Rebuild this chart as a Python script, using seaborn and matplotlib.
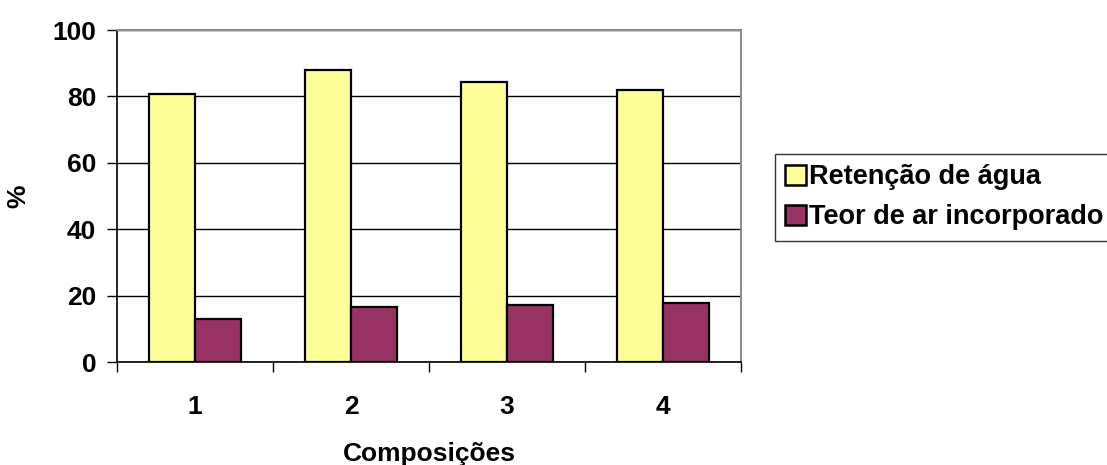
import matplotlib
matplotlib.use("Agg")
import matplotlib.pyplot as plt
import seaborn as sns
import pandas as pd
from matplotlib.ticker import FixedLocator

# Values per composition
composicoes = ["1", "2", "3", "4"]
retencao_agua = [80.8, 88.1, 84.4, 81.9]
teor_ar = [13.1, 16.6, 17.1, 17.7]
series_names = ["Retenção de água", "Teor de ar incorporado"]
series_colors = ["#FFFF99", "#993366"]
y_ticks = [0, 20, 40, 60, 80, 100]

df = pd.DataFrame({
    "Composição": composicoes * 2,
    "Valor": retencao_agua + teor_ar,
    "Série": [series_names[0]] * 4 + [series_names[1]] * 4,
})

sns.set_style("white")
plt.rcParams["font.family"] = ["Liberation Sans", "DejaVu Sans"]
plt.rcParams["font.weight"] = "bold"
plt.rcParams["text.color"] = "black"
plt.rcParams["axes.labelcolor"] = "black"
plt.rcParams["xtick.color"] = "black"
plt.rcParams["ytick.color"] = "black"

FS = 19

fig = plt.figure(figsize=(11.07, 4.65), dpi=100)
ax = fig.add_axes([117 / 1107, 1 - 362 / 465, (741 - 117) / 1107, (362 - 30) / 465])

sns.barplot(data=df, x="Composição", y="Valor", hue="Série", order=composicoes,
            hue_order=series_names, palette=series_colors, width=0.59,
            edgecolor="black", linewidth=1.6, saturation=1, ax=ax, legend=True)

ax.set_ylim(0, 100)
ax.set_xlim(-0.5, 3.5)
ax.set_yticks(y_ticks)
ax.set_yticklabels([str(v) for v in y_ticks], fontsize=FS, fontweight="bold")
ax.yaxis.grid(True, color="black", linewidth=1.0)
ax.set_axisbelow(True)

# category boundaries as major ticks, labels centred via minor ticks
ax.xaxis.set_major_locator(FixedLocator([-0.5, 0.5, 1.5, 2.5, 3.5]))
ax.xaxis.set_minor_locator(FixedLocator([0, 1, 2, 3]))
ax.set_xticklabels([])
ax.set_xticklabels(composicoes, minor=True, fontsize=FS, fontweight="bold")
ax.tick_params(axis="x", which="major", direction="out", length=7, width=1, bottom=True)
ax.tick_params(axis="x", which="minor", length=0, pad=24)
ax.tick_params(axis="y", direction="out", length=7, width=1, left=True, pad=8)

for side in ["left", "bottom"]:
    ax.spines[side].set_color("black")
    ax.spines[side].set_linewidth(1.2)
for side in ["top", "right"]:
    ax.spines[side].set_visible(True)
    ax.spines[side].set_color("#8c8c8c")
    ax.spines[side].set_linewidth(1.5)

ax.set_xlabel("Composições", fontsize=FS, fontweight="bold", va="center")
ax.xaxis.set_label_coords(0.5, (362 - 454) / 332)
ax.set_ylabel("%", fontsize=FS, fontweight="bold", va="center")
ax.yaxis.set_label_coords((18 - 117) / 624, 0.5)

ax.get_legend().remove()
handles, labels = ax.get_legend_handles_labels()
leg = fig.legend(handles[:2], labels[:2], loc="upper left",
                 bbox_to_anchor=(775 / 1107, 1 - 154 / 465),
                 prop={"size": 19.5, "weight": "bold"}, frameon=True, fancybox=False,
                 edgecolor="black", handlelength=0.77, handleheight=0.77,
                 handletextpad=0.12, borderpad=0.38, labelspacing=0.52, borderaxespad=0)
leg.get_frame().set_linewidth(1.0)
for h in leg.legend_handles:
    h.set_edgecolor("black")
    h.set_linewidth(1.8)

fig.savefig("out.png", dpi=100, facecolor="white")
